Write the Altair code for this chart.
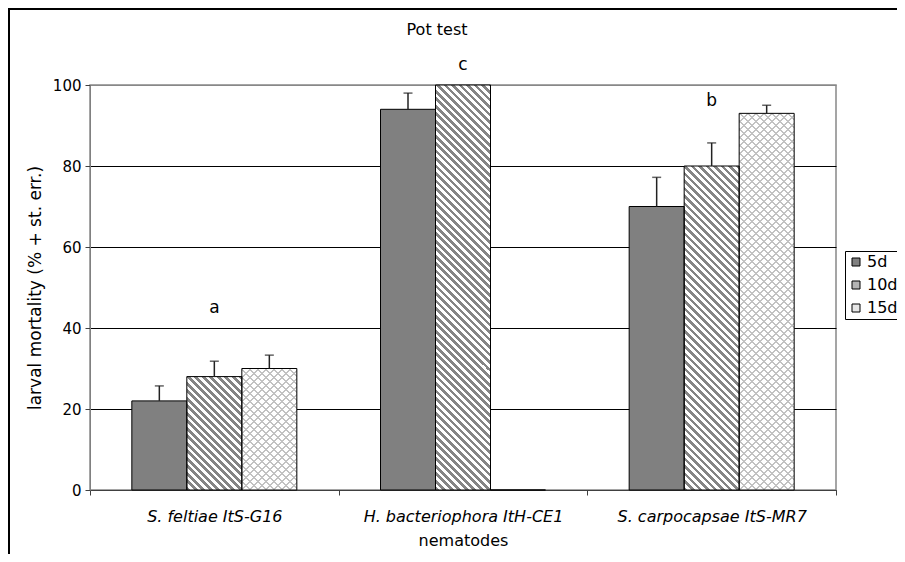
import altair as alt
import pandas as pd

# ---------------- data ----------------
categories = ["S. feltiae ItS-G16", "H. bacteriophora ItH-CE1", "S. carpocapsae ItS-MR7"]
series = ["5d", "10d", "15d"]
mortality_5d = [22, 94, 70]
mortality_10d = [28, 100, 80]
mortality_15d = [30, 0, 93]
err_5d = [3.7, 4.0, 7.2]
err_10d = [3.8, 0, 5.7]
err_15d = [3.3, 0, 2.0]
letters = ["a", "c", "b"]
letter_pos = [45, 105, 96]
y_ticks = [0, 20, 40, 60, 80, 100]
chart_title = "Pot test"

values = {"5d": mortality_5d, "10d": mortality_10d, "15d": mortality_15d}
errors = {"5d": err_5d, "10d": err_10d, "15d": err_15d}
rows = []
for s in series:
    for i, c in enumerate(categories):
        rows.append({"category": c, "series": s, "value": values[s][i],
                     "top": values[s][i] + errors[s][i], "err": errors[s][i]})
df = pd.DataFrame(rows)
df["idx"] = range(len(df))
letters_df = pd.DataFrame({"category": categories, "value": letter_pos, "letter": letters})

# ---------------- layout ----------------
W, H = 746, 405
PAD = {"left": 82, "top": 77, "right": 61, "bottom": 64}
BAR_W = 55
band = W / len(categories)
pad_outer = (band / BAR_W - 3) / 2


def stripe_stops(length, period, duty, on, off):
    stops = []
    pos = 0.0
    while pos < length:
        a = pos / length
        b = min((pos + duty * period) / length, 1)
        c = min((pos + period) / length, 1)
        stops += [{"offset": round(a, 5), "color": on}, {"offset": round(b, 5), "color": on},
                  {"offset": round(b, 5), "color": off}, {"offset": round(c, 5), "color": off}]
        pos += period
    return stops


def back_grad(w, h, period, duty, on, off):
    # stripes running "\" (x - y = const)
    a = (w + h) / (w * w + h * h)
    return {"gradient": "linear", "x1": 0, "y1": 1, "x2": a * w, "y2": 1 - a * h,
            "stops": stripe_stops(w + h, period, duty, on, off)}


def fwd_grad(w, h, period, duty, on, off):
    # stripes running "/" (x + y = const)
    a = (w + h) / (w * w + h * h)
    return {"gradient": "linear", "x1": 0, "y1": 0, "x2": a * w, "y2": a * h,
            "stops": stripe_stops(w + h, period, duty, on, off)}


cond1, cond2 = [], []
for _, r in df.iterrows():
    h = r["value"] * H / 100.0
    if h <= 0:
        continue
    test = f"datum.idx === {int(r['idx'])}"
    if r["series"] == "10d":
        cond1.append({"test": test, "value": back_grad(BAR_W, h, 7.5, 0.5, "#858585", "#ffffff")})
    elif r["series"] == "15d":
        cond1.append({"test": test, "value": back_grad(BAR_W, h, 8, 0.25, "#c2c2c2", "#ffffff")})
        cond2.append({"test": test, "value": fwd_grad(BAR_W, h, 8, 0.25, "#c2c2c2", "rgba(255,255,255,0)")})

FONT = "DejaVu Sans"

x_enc = alt.X("category:N", sort=categories, scale=alt.Scale(paddingInner=0, paddingOuter=0),
              axis=alt.Axis(title="nematodes", labelAngle=0, labelFontStyle="italic", labelFontSize=16,
                            labelLimit=400, labelPadding=13, tickBand="extent", tickSize=5,
                            domainColor="#404040", tickColor="#404040", titleFontSize=16,
                            titlePadding=8, grid=False))
xo_enc = alt.XOffset("series:N", sort=series, scale=alt.Scale(paddingInner=0, paddingOuter=pad_outer))
y_enc = alt.Y("value:Q", scale=alt.Scale(domain=[0, 100], nice=False),
              axis=alt.Axis(values=y_ticks, title="larval mortality (% + st. err.)", grid=True,
                            gridColor={"condition": {"test": "datum.value >= 100", "value": "#888888"},
                                       "value": "black"},
                            gridWidth=1, domainColor="#808080", tickColor="#404040", tickSize=5,
                            labelFontSize=15, labelPadding=4, titleFontSize=17, titlePadding=8))

bars = alt.Chart(df).mark_bar().encode(
    x=x_enc, xOffset=xo_enc, y=y_enc,
    fill=alt.Fill("series:N", sort=series,
                  scale=alt.Scale(domain=series, range=["#808080", "#b4b4b4", "#e6e6e6"]),
                  legend=alt.Legend(title=None, orient="none", legendX=755, legendY=166, padding=3,
                                    strokeColor="black", fillColor="white", labelFontSize=16,
                                    labelFont=FONT, symbolType="square", symbolSize=64,
                                    symbolStrokeColor="black", symbolStrokeWidth=1, rowPadding=7,
                                    labelOffset=3, labelExpr="datum.label + '        '")),
)

hatch1 = alt.Chart(df).mark_bar().encode(
    x=x_enc, xOffset=xo_enc, y=y_enc,
    fill=alt.value("transparent", condition=cond1),
)
hatch2 = alt.Chart(df).mark_bar().encode(
    x=x_enc, xOffset=xo_enc, y=y_enc,
    fill=alt.value("transparent", condition=cond2),
)
outline = alt.Chart(df).mark_bar(fillOpacity=0, stroke="black", strokeWidth=1).encode(
    x=x_enc, xOffset=xo_enc, y=y_enc,
)

err_df_filter = alt.datum.err > 0
err_rule = alt.Chart(df).transform_filter(err_df_filter).mark_rule(color="#222222", strokeWidth=1.5).encode(
    x=x_enc, xOffset=xo_enc, y=y_enc, y2="top:Q",
)
err_cap = alt.Chart(df).transform_filter(err_df_filter).mark_tick(
    color="#222222", thickness=1.5, size=9, orient="horizontal").encode(
    x=x_enc, xOffset=xo_enc, y=alt.Y("top:Q"),
)

letter_text = alt.Chart(letters_df).mark_text(fontSize=17, font=FONT, color="black", baseline="middle").encode(
    x=x_enc, y=y_enc, text="letter:N",
)

frame_df = pd.DataFrame({"k": [0]})
title_text = alt.Chart(frame_df).mark_text(
    text=chart_title, fontSize=16, font=FONT, color="black", baseline="middle", align="center").encode(
    x=alt.value(W / 2 - 26), y=alt.value(-55))
frame_left = alt.Chart(frame_df).mark_rule(color="black", strokeWidth=2).encode(
    x=alt.value(-81), y=alt.value(-76), y2=alt.value(H + PAD["bottom"]))
frame_top = alt.Chart(frame_df).mark_rule(color="black", strokeWidth=2).encode(
    x=alt.value(-82), x2=alt.value(W + PAD["right"]), y=alt.value(-76))

chart = alt.layer(
    bars, hatch1, hatch2, outline, err_rule, err_cap, letter_text, title_text, frame_left, frame_top
).properties(
    width=W, height=H,
    autosize=alt.AutoSizeParams(type="none"),
    padding=PAD,
    background="white",
).configure_view(
    stroke="#888888", strokeWidth=1.5,
).configure_axis(
    labelFont=FONT, titleFont=FONT, labelColor="black", titleColor="black", titleFontWeight="normal",
)

chart.save("out.html", embed_options={"renderer": "svg", "actions": False})
